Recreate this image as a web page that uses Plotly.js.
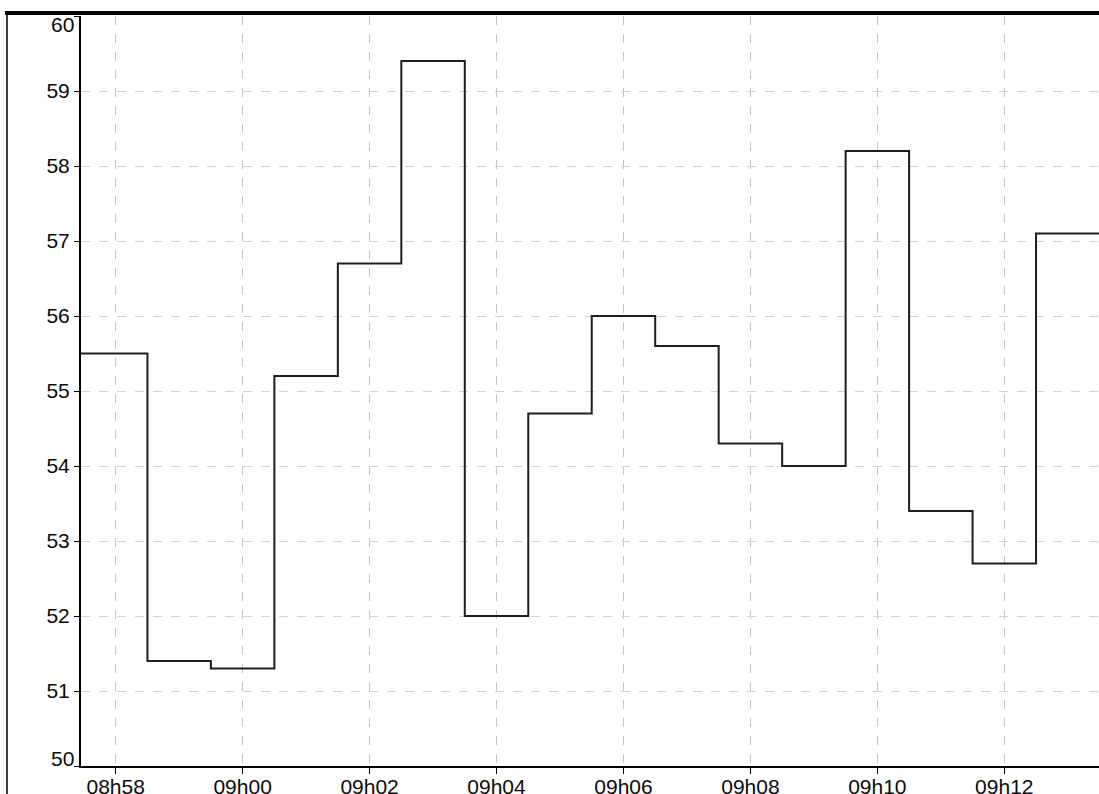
<!DOCTYPE html>
<html>
<head>
<meta charset="utf-8">
<script src="https://cdn.plot.ly/plotly-3.0.1.min.js"></script>
<style>
  html, body { margin: 0; padding: 0; background: #ffffff; }
  #chart { width: 1099px; height: 794px; }
</style>
</head>
<body>
<div id="chart"></div>
<script>
// One reading per minute; each level holds for the whole minute around its timestamp.
const minutes = ['08h57', '08h58', '08h59', '09h00', '09h01', '09h02', '09h03', '09h04', '09h05',
                 '09h06', '09h07', '09h08', '09h09', '09h10', '09h11', '09h12', '09h13', '09h14'];
const levels = [55.5, 55.5, 51.4, 51.3, 55.2, 56.7, 59.4, 52.0, 54.7,
                56.0, 55.6, 54.3, 54.0, 58.2, 53.4, 52.7, 57.1, 57.1];

// Axis labelling
const xTickLabels = ['08h58', '09h00', '09h02', '09h04', '09h06', '09h08', '09h10', '09h12'];
const yTickValues = [50, 51, 52, 53, 54, 55, 56, 57, 58, 59, 60];

// "HHhMM" -> minutes since midnight
function toMinutes(label) {
  const parts = label.split('h');
  return parseInt(parts[0], 10) * 60 + parseInt(parts[1], 10);
}

const xs = minutes.map(toMinutes);
const xTickVals = xTickLabels.map(toMinutes);

const tickFont = { family: 'Liberation Sans, Arial, sans-serif', size: 21, color: '#0a0a0a' };

// End labels sit inside the axis span, so they are placed as annotations
const yInnerLabels = yTickValues.map(function (v) {
  return (v === yTickValues[0] || v === yTickValues[yTickValues.length - 1]) ? '' : String(v);
});

const W = 1099, H = 794;
const M = { l: 81, r: 0, t: 16, b: 28 };
const plotW = W - M.l - M.r, plotH = H - M.t - M.b;
const px2paperX = function (px) { return (px - M.l) / plotW; };
const px2paperY = function (py) { return (H - M.b - py) / plotH; };

const trace = {
  x: xs,
  y: levels,
  type: 'scatter',
  mode: 'lines',
  line: { shape: 'hvh', color: '#1e1e1e', width: 2 },
  hoverinfo: 'x+y'
};

const layout = {
  width: W,
  height: H,
  margin: M,
  paper_bgcolor: '#ffffff',
  plot_bgcolor: '#ffffff',
  showlegend: false,
  xaxis: {
    range: [537.4533, 553.492],
    tickmode: 'array',
    tickvals: xTickVals,
    ticktext: xTickLabels,
    ticks: 'outside',
    ticklen: 6,
    tickwidth: 1,
    tickcolor: '#000000',
    ticklabelstandoff: -5,
    showline: true,
    linecolor: '#000000',
    linewidth: 2,
    showgrid: true,
    gridcolor: '#c4c4c4',
    griddash: 'dash',
    gridwidth: 1,
    zeroline: false,
    tickfont: tickFont,
    fixedrange: true
  },
  yaxis: {
    range: [50, 60],
    tickmode: 'array',
    tickvals: yTickValues,
    ticktext: yInnerLabels,
    ticks: 'outside',
    ticklen: 5,
    tickwidth: 1,
    tickcolor: '#000000',
    showline: true,
    linecolor: '#000000',
    linewidth: 2,
    showgrid: true,
    gridcolor: '#d2d2d2',
    griddash: 'dash',
    gridwidth: 1,
    zeroline: false,
    tickfont: tickFont,
    fixedrange: true
  },
  shapes: [
    // heavy top frame edge
    { type: 'line', xref: 'paper', yref: 'paper',
      x0: px2paperX(5), x1: px2paperX(1110), y0: px2paperY(13), y1: px2paperY(13),
      line: { color: '#000000', width: 4 } },
    // thin left frame edge
    { type: 'line', xref: 'paper', yref: 'paper',
      x0: px2paperX(7), x1: px2paperX(7), y0: px2paperY(11), y1: px2paperY(800),
      line: { color: '#000000', width: 1.5 } }
  ],
  annotations: [
    { xref: 'paper', yref: 'y', x: 0, y: yTickValues[yTickValues.length - 1],
      text: String(yTickValues[yTickValues.length - 1]), showarrow: false,
      xanchor: 'right', yanchor: 'middle', xshift: -5, yshift: -8, font: tickFont },
    { xref: 'paper', yref: 'y', x: 0, y: yTickValues[0],
      text: String(yTickValues[0]), showarrow: false,
      xanchor: 'right', yanchor: 'middle', xshift: -5, yshift: 8, font: tickFont }
  ]
};

Plotly.newPlot('chart', [trace], layout, { displayModeBar: false, staticPlot: true });
</script>
</body>
</html>
